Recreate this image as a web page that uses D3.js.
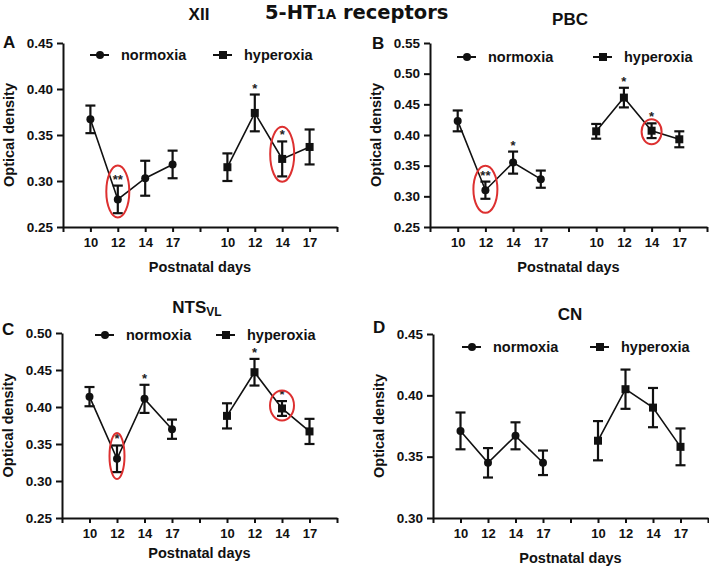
<!DOCTYPE html>
<html><head><meta charset="utf-8">
<script src="https://cdn.jsdelivr.net/npm/d3@7"></script>
<style>body{margin:0;background:#fff}svg{display:block}</style>
</head><body><svg id="c" width="709" height="567"></svg>
<script>
// ---------- data ----------
const days = ["10", "12", "14", "17"];
const groups = ["normoxia", "hyperoxia"];

const xiiNormMean  = [0.367, 0.280, 0.303, 0.318];
const xiiNormSem   = [0.015, 0.015, 0.019, 0.015];
const xiiHyperMean = [0.315, 0.374, 0.324, 0.337];
const xiiHyperSem  = [0.015, 0.020, 0.019, 0.019];
const xiiNormSig   = ["", "**", "", ""];
const xiiHyperSig  = ["", "*", "*", ""];

const pbcNormMean  = [0.423, 0.310, 0.355, 0.328];
const pbcNormSem   = [0.017, 0.014, 0.018, 0.014];
const pbcHyperMean = [0.406, 0.461, 0.407, 0.393];
const pbcHyperSem  = [0.012, 0.016, 0.012, 0.013];
const pbcNormSig   = ["", "**", "*", ""];
const pbcHyperSig  = ["", "*", "*", ""];

const ntsNormMean  = [0.414, 0.330, 0.411, 0.370];
const ntsNormSem   = [0.013, 0.018, 0.019, 0.013];
const ntsHyperMean = [0.388, 0.447, 0.398, 0.367];
const ntsHyperSem  = [0.017, 0.018, 0.010, 0.017];
const ntsNormSig   = ["", "*", "*", ""];
const ntsHyperSig  = ["", "*", "*", ""];

const cnNormMean   = [0.371, 0.345, 0.367, 0.345];
const cnNormSem    = [0.015, 0.012, 0.011, 0.010];
const cnHyperMean  = [0.363, 0.405, 0.390, 0.358];
const cnHyperSem   = [0.016, 0.016, 0.016, 0.015];
const cnNormSig    = ["", "", "", ""];
const cnHyperSig   = ["", "", "", ""];

const xiiYTicks = [0.25, 0.30, 0.35, 0.40, 0.45];
const pbcYTicks = [0.25, 0.30, 0.35, 0.40, 0.45, 0.50, 0.55];
const ntsYTicks = [0.25, 0.30, 0.35, 0.40, 0.45, 0.50];
const cnYTicks  = [0.30, 0.35, 0.40, 0.45];

// ---------- layout ----------
const FONT = "'Liberation Sans', Arial, Helvetica, sans-serif";
const TFONT = "'DejaVu Sans', 'Liberation Sans', Arial, sans-serif";
const RED = "#dd3030";

const panels = [
  { letter: "A", title: "XII", sub: "", nm: xiiNormMean, ns: xiiNormSem, hm: xiiHyperMean, hs: xiiHyperSem,
    nsig: xiiNormSig, hsig: xiiHyperSig, ticks: xiiYTicks,
    box: { l: 63, r: 337, t: 43, b: 227 }, titleXY: [199, 20], letterXY: [3, 48], legY: 55, legX: [90, 213],
    xtY: 45, ell: [{ g: 0, i: 1, c: 0.2885, rx: 11.5, ry: 26 }, { g: 1, i: 2, c: 0.329, rx: 12, ry: 27.5 }] },
  { letter: "B", title: "PBC", sub: "", nm: pbcNormMean, ns: pbcNormSem, hm: pbcHyperMean, hs: pbcHyperSem,
    nsig: pbcNormSig, hsig: pbcHyperSig, ticks: pbcYTicks,
    box: { l: 430, r: 707, t: 43, b: 227 }, titleXY: [570, 25], letterXY: [372, 49], legY: 57, legX: [457, 593],
    xtY: 45, ell: [{ g: 0, i: 1, c: 0.3114, rx: 12, ry: 23.5 }, { g: 1, i: 2, c: 0.4054, rx: 10, ry: 12.5 }] },
  { letter: "C", title: "NTS", sub: "VL", nm: ntsNormMean, ns: ntsNormSem, hm: ntsHyperMean, hs: ntsHyperSem,
    nsig: ntsNormSig, hsig: ntsHyperSig, ticks: ntsYTicks,
    box: { l: 62, r: 337, t: 333, b: 518 }, titleXY: [197, 313], letterXY: [2, 335], legY: 335, legX: [95, 216],
    xtY: 40, ell: [{ g: 0, i: 1, c: 0.3338, rx: 7.5, ry: 23 }, { g: 1, i: 2, c: 0.402, rx: 12, ry: 15 }] },
  { letter: "D", title: "CN", sub: "", nm: cnNormMean, ns: cnNormSem, hm: cnHyperMean, hs: cnHyperSem,
    nsig: cnNormSig, hsig: cnHyperSig, ticks: cnYTicks,
    box: { l: 433, r: 708, t: 334, b: 518 }, titleXY: [570, 320], letterXY: [373, 333], legY: 347, legX: [462, 590],
    xtY: 45, ell: [] }
];

const svg = d3.select("#c");
svg.append("rect").attr("width", 709).attr("height", 567).attr("fill", "#fff");

// main title
const mt = svg.append("text").attr("x", 265).attr("y", 19)
  .attr("font-family", TFONT).attr("font-weight", "bold").attr("font-size", 19.5).attr("fill", "#111");
mt.append("tspan").text("5-HT");
mt.append("tspan").attr("font-size", 13.5).text("1A");
mt.append("tspan").text(" receptors");

panels.forEach(p => {
  const g = svg.append("g");
  const x = d3.scaleLinear().domain([0, 10]).range([p.box.l, p.box.r]);
  const y = d3.scaleLinear().domain([p.ticks[0], p.ticks[p.ticks.length - 1]]).range([p.box.b, p.box.t]);

  // y axis
  const ya = g.append("g").attr("transform", `translate(${p.box.l},0)`)
    .call(d3.axisLeft(y).tickValues(p.ticks).tickFormat(d3.format(".2f")).tickSize(6).tickSizeOuter(0).tickPadding(4));
  // x axis
  const lbl = d => (d >= 1 && d <= 4) ? days[d - 1] : (d >= 6 && d <= 9) ? days[d - 6] : "";
  const xa = g.append("g").attr("transform", `translate(0,${p.box.b})`)
    .call(d3.axisBottom(x).tickValues(d3.range(0, 11)).tickFormat(lbl).tickSize(5).tickSizeOuter(0).tickPadding(6));
  [ya, xa].forEach(a => {
    a.select(".domain").attr("stroke", "#111").attr("stroke-width", 2);
    a.selectAll(".tick line").attr("stroke", "#111").attr("stroke-width", 2);
    a.selectAll("text").attr("font-family", FONT).attr("font-weight", "bold").attr("fill", "#111");
  });
  ya.selectAll("text").attr("font-size", 13.5);
  xa.selectAll("text").attr("font-size", 13);

  // axis titles
  g.append("text").attr("transform", `translate(${p.box.l - 49},${(p.box.t + p.box.b) / 2}) rotate(-90)`)
    .attr("text-anchor", "middle").attr("font-family", FONT).attr("font-weight", "bold").attr("font-size", 14.5)
    .attr("fill", "#111").text("Optical density");
  g.append("text").attr("x", (p.box.l + p.box.r) / 2).attr("y", p.box.b + p.xtY)
    .attr("text-anchor", "middle").attr("font-family", FONT).attr("font-weight", "bold").attr("font-size", 14.5)
    .attr("fill", "#111").text("Postnatal days");

  // panel title
  const tt = g.append("text").attr("x", p.titleXY[0]).attr("y", p.titleXY[1]).attr("text-anchor", "middle")
    .attr("font-family", FONT).attr("font-weight", "bold").attr("font-size", 17).attr("fill", "#111");
  tt.append("tspan").text(p.title);
  if (p.sub) tt.append("tspan").attr("font-size", 12).attr("dy", 3).text(p.sub);

  // panel letter
  g.append("text").attr("x", p.letterXY[0]).attr("y", p.letterXY[1])
    .attr("font-family", FONT).attr("font-weight", "bold").attr("font-size", 17).attr("fill", "#111").text(p.letter);

  // series
  const series = [
    { m: p.nm, s: p.ns, sig: p.nsig, off: 1, shape: "circle" },
    { m: p.hm, s: p.hs, sig: p.hsig, off: 6, shape: "square" }
  ];
  series.forEach(sr => {
    const pts = sr.m.map((v, i) => ({ x: x(i + sr.off), v, s: sr.s[i], sig: sr.sig[i] }));
    g.append("path").datum(pts)
      .attr("d", d3.line().x(d => d.x).y(d => y(d.v)))
      .attr("fill", "none").attr("stroke", "#111").attr("stroke-width", 1.6);
    pts.forEach(d => {
      const top = y(d.v + d.s), bot = y(d.v - d.s);
      g.append("line").attr("x1", d.x).attr("x2", d.x).attr("y1", top).attr("y2", bot)
        .attr("stroke", "#111").attr("stroke-width", 2.2);
      [top, bot].forEach(yy => g.append("line").attr("x1", d.x - 5).attr("x2", d.x + 5).attr("y1", yy).attr("y2", yy)
        .attr("stroke", "#111").attr("stroke-width", 2.2));
      if (sr.shape === "circle") {
        g.append("circle").attr("cx", d.x).attr("cy", y(d.v)).attr("r", 4).attr("fill", "#111");
      } else {
        g.append("rect").attr("x", d.x - 4).attr("y", y(d.v) - 4).attr("width", 8).attr("height", 8).attr("fill", "#111");
      }
      if (d.sig) {
        g.append("text").attr("x", d.x).attr("y", top - 2).attr("text-anchor", "middle")
          .attr("font-family", FONT).attr("font-weight", "bold").attr("font-size", 13).attr("fill", "#222").text(d.sig);
      }
    });
  });

  // red ellipses
  p.ell.forEach(e => {
    const off = e.g === 0 ? 1 : 6;
    g.append("ellipse").attr("cx", x(e.i + off)).attr("cy", y(e.c)).attr("rx", e.rx).attr("ry", e.ry)
      .attr("fill", "none").attr("stroke", RED).attr("stroke-width", 2);
  });

  // legend
  groups.forEach((name, k) => {
    const lx = p.legX[k];
    g.append("line").attr("x1", lx).attr("x2", lx + 19).attr("y1", p.legY).attr("y2", p.legY)
      .attr("stroke", "#111").attr("stroke-width", 2);
    if (k === 0) g.append("circle").attr("cx", lx + 10).attr("cy", p.legY).attr("r", 4).attr("fill", "#111");
    else g.append("rect").attr("x", lx + 6).attr("y", p.legY - 4).attr("width", 8).attr("height", 8).attr("fill", "#111");
    g.append("text").attr("x", lx + 31).attr("y", p.legY + 5).attr("font-family", FONT).attr("font-weight", "bold")
      .attr("font-size", 14.5).attr("fill", "#111").text(name);
  });
});
</script></body></html>
